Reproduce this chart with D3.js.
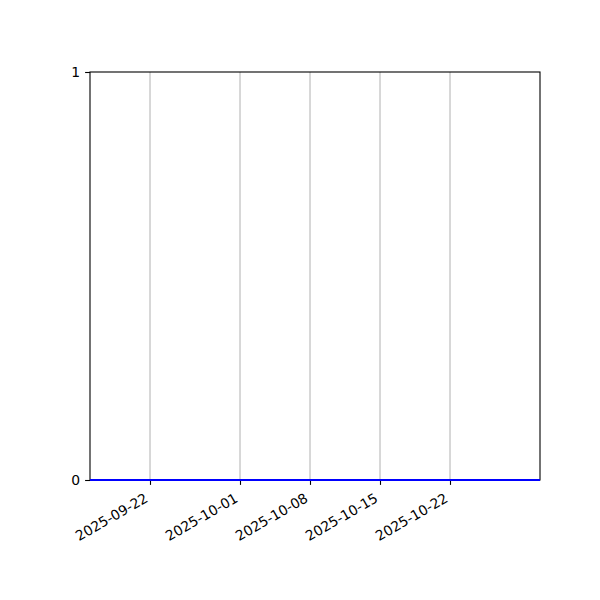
<!DOCTYPE html>
<html>
<head>
<meta charset="utf-8">
<script src="https://cdn.jsdelivr.net/npm/d3@7"></script>
<style>
  body { margin: 0; background: #fff; }
  text { font-family: "DejaVu Sans", sans-serif; font-size: 13.9px; fill: #000; }
</style>
</head>
<body>
<div id="chart"></div>
<script>
// data
var dates = ["2025-09-16", "2025-09-22", "2025-10-01", "2025-10-08", "2025-10-15", "2025-10-22", "2025-10-31"];
var counts = [0, 0, 0, 0, 0, 0, 0];
var tickDates = ["2025-09-22", "2025-10-01", "2025-10-08", "2025-10-15", "2025-10-22"];
var yTicks = [0, 1];
var xDomain = ["2025-09-16", "2025-10-31"];

var parse = d3.utcParse("%Y-%m-%d");
var fmt = d3.utcFormat("%Y-%m-%d");

var margin = {top: 72, right: 60, bottom: 120, left: 90},
    width = 600 - margin.left - margin.right,
    height = 600 - margin.top - margin.bottom;

var svg = d3.select("#chart")
  .append("svg")
    .attr("width", 600)
    .attr("height", 600)
  .append("g")
    .attr("transform", "translate(" + margin.left + "," + margin.top + ")");

var x = d3.scaleUtc()
  .domain(xDomain.map(parse))
  .range([0, width]);

var y = d3.scaleLinear()
  .domain([0, 1])
  .range([height, 0]);

// vertical grid
svg.append("g")
  .selectAll("line")
  .data(tickDates.map(parse))
  .enter()
  .append("line")
    .attr("x1", d => x(d)).attr("x2", d => x(d))
    .attr("y1", 0).attr("y2", height)
    .attr("stroke", "#b0b0b0")
    .attr("stroke-width", 1);

var line = d3.line()
  .x((d, i) => x(parse(dates[i])))
  .y(d => y(d));

// X axis
var xAxis = svg.append("g")
  .attr("transform", "translate(0," + height + ")")
  .call(d3.axisBottom(x)
    .tickValues(tickDates.map(parse))
    .tickFormat(fmt)
    .tickSize(4.9)
    .tickPadding(4.9));
xAxis.select(".domain").remove();
xAxis.selectAll("line").attr("stroke", "#000").attr("stroke-width", 1.1);
xAxis.selectAll("text")
  .attr("y", 0)
  .attr("dy", 0)
  .attr("transform", "translate(-1.5,21)rotate(-30)")
  .style("text-anchor", "end")
  .style("font-size", "13.9px")
  .style("font-family", "DejaVu Sans, sans-serif");

// Y axis
var yAxis = svg.append("g")
  .call(d3.axisLeft(y)
    .tickValues(yTicks)
    .tickFormat(d3.format("d"))
    .tickSize(4.9)
    .tickPadding(4.9));
yAxis.select(".domain").remove();
yAxis.selectAll("line").attr("stroke", "#000").attr("stroke-width", 1.1);
yAxis.selectAll("text")
  .style("font-size", "13.9px")
  .style("font-family", "DejaVu Sans, sans-serif");

// frame
svg.append("rect")
  .attr("width", width)
  .attr("height", height)
  .attr("fill", "none")
  .attr("stroke", "#000")
  .attr("stroke-width", 1.1);

// the series, drawn over the bottom spine
svg.append("path")
  .datum(counts)
  .attr("fill", "none")
  .attr("stroke", "#0000ff")
  .attr("stroke-width", 2)
  .attr("d", line);
</script>
</body>
</html>
